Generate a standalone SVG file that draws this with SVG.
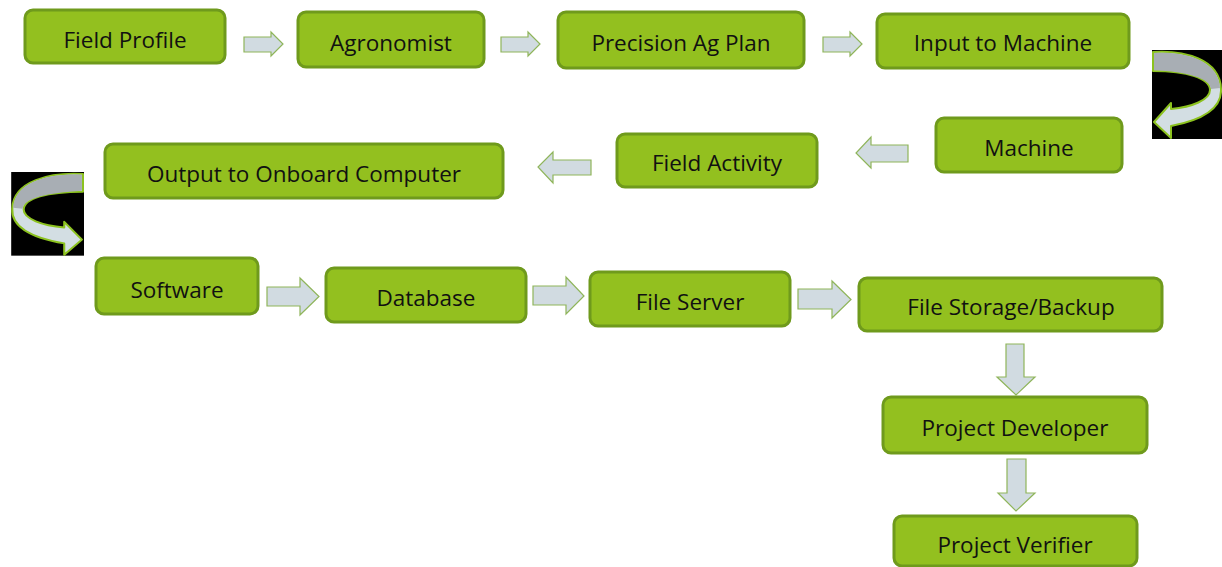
<svg xmlns="http://www.w3.org/2000/svg" width="1222" height="567" viewBox="0 0 1222 567">
  <defs>
    <style>
      .box { fill: #93C01F; stroke: #6F9A1C; stroke-width: 3; }
      .lbl { font-family: "Open Sans", "Liberation Sans", sans-serif; font-size: 22.5px; fill: #111; text-anchor: middle; }
      .blk { fill: #D1DBE1; stroke: #8FB55A; stroke-width: 1.2; stroke-linejoin: miter; }
      .turn-bg { fill: #000; }
      .turn-lo { fill: #D3DEE3; stroke: #8CC21F; stroke-width: 2; stroke-linejoin: round; }
      .turn-hi { fill: #A8AEB4; }
    </style>
    <!-- U-turn arrow, pointing left, drawn in a 70x89 cell -->
    <g id="uturn">
      <rect class="turn-bg" x="0" y="0" width="70" height="89"/>
      <path class="turn-lo" d="M1,2 C32,0 68,9 69,39 C70,58 50,70 19,76 L19,88 L2,72 L19,53 L19,59 C40,57 58,50 58,40 C58,28 35,21 1,21 Z"/>
      <path class="turn-hi" d="M2,3 C32,1 67,10 68,38 L59,39 C58,28 35,22 2,20 Z"/>
    </g>
  </defs>

  <!-- connectors -->
  <g id="connectors">
    <!-- row 1, pointing right -->
    <path class="blk" d="M244,37 H271 V32 L283,44 L271,56 V52 H244 Z"/>
    <path class="blk" d="M501,37 H528 V32 L540,44 L528,56 V52 H501 Z"/>
    <path class="blk" d="M823,37 H850 V32 L862,44 L850,56 V52 H823 Z"/>
    <!-- row 2, pointing left -->
    <path class="blk" d="M908,145 H871 V137 L856,153 L871,168 V162 H908 Z"/>
    <path class="blk" d="M591,160 H553 V152 L538,167 L553,183 V175 H591 Z"/>
    <!-- row 3, pointing right -->
    <path class="blk" d="M267,287 H300 V278 L319,296.5 L300,315 V306 H267 Z"/>
    <path class="blk" d="M533,286 H566 V277 L584,296 L566,314 V305 H533 Z"/>
    <path class="blk" d="M798,289 H832 V281 L851,299.5 L832,318 V309 H798 Z"/>
    <!-- column, pointing down -->
    <path class="blk" d="M1006,344 H1024 V377 H1035 L1016,395 L997,377 H1006 Z"/>
    <path class="blk" d="M1007,459 H1026 V493 H1035 L1016,511 L998,493 H1007 Z"/>
    <!-- U-turns between rows -->
    <use href="#uturn" transform="translate(1152,50)"/>
    <use href="#uturn" transform="translate(84,172) scale(-1.04,0.94)"/>
  </g>

  <g id="n-field-profile">
    <rect class="box" x="25" y="10" width="200" height="53" rx="8"/>
    <text class="lbl" x="125" y="48">Field Profile</text>
  </g>
  <g id="n-agronomist">
    <rect class="box" x="298" y="12" width="186" height="55" rx="8"/>
    <text class="lbl" x="391" y="51">Agronomist</text>
  </g>
  <g id="n-precision-plan">
    <rect class="box" x="558" y="12" width="246" height="56" rx="8"/>
    <text class="lbl" x="681" y="51">Precision Ag Plan</text>
  </g>
  <g id="n-input-machine">
    <rect class="box" x="877" y="14" width="252" height="54" rx="8"/>
    <text class="lbl" x="1003" y="51">Input to Machine</text>
  </g>
  <g id="n-machine">
    <rect class="box" x="936" y="118" width="186" height="54" rx="8"/>
    <text class="lbl" x="1029" y="156">Machine</text>
  </g>
  <g id="n-field-activity">
    <rect class="box" x="617" y="134" width="200" height="53" rx="8"/>
    <text class="lbl" x="717" y="171">Field Activity</text>
  </g>
  <g id="n-output-onboard">
    <rect class="box" x="105" y="144" width="398" height="54" rx="8"/>
    <text class="lbl" x="304" y="182">Output to Onboard Computer</text>
  </g>
  <g id="n-software">
    <rect class="box" x="96" y="258" width="162" height="56" rx="8"/>
    <text class="lbl" x="177" y="298">Software</text>
  </g>
  <g id="n-database">
    <rect class="box" x="326" y="268" width="200" height="54" rx="8"/>
    <text class="lbl" x="426" y="306">Database</text>
  </g>
  <g id="n-file-server">
    <rect class="box" x="590" y="272" width="200" height="54" rx="8"/>
    <text class="lbl" x="690" y="310">File Server</text>
  </g>
  <g id="n-file-storage">
    <rect class="box" x="859" y="278" width="303" height="53" rx="8"/>
    <text class="lbl" x="1011" y="315">File Storage/Backup</text>
  </g>
  <g id="n-project-developer">
    <rect class="box" x="883" y="397" width="264" height="56" rx="8"/>
    <text class="lbl" x="1015" y="436">Project Developer</text>
  </g>
  <g id="n-project-verifier">
    <rect class="box" x="894" y="516" width="243" height="50" rx="8"/>
    <text class="lbl" x="1015" y="553">Project Verifier</text>
  </g>
</svg>
